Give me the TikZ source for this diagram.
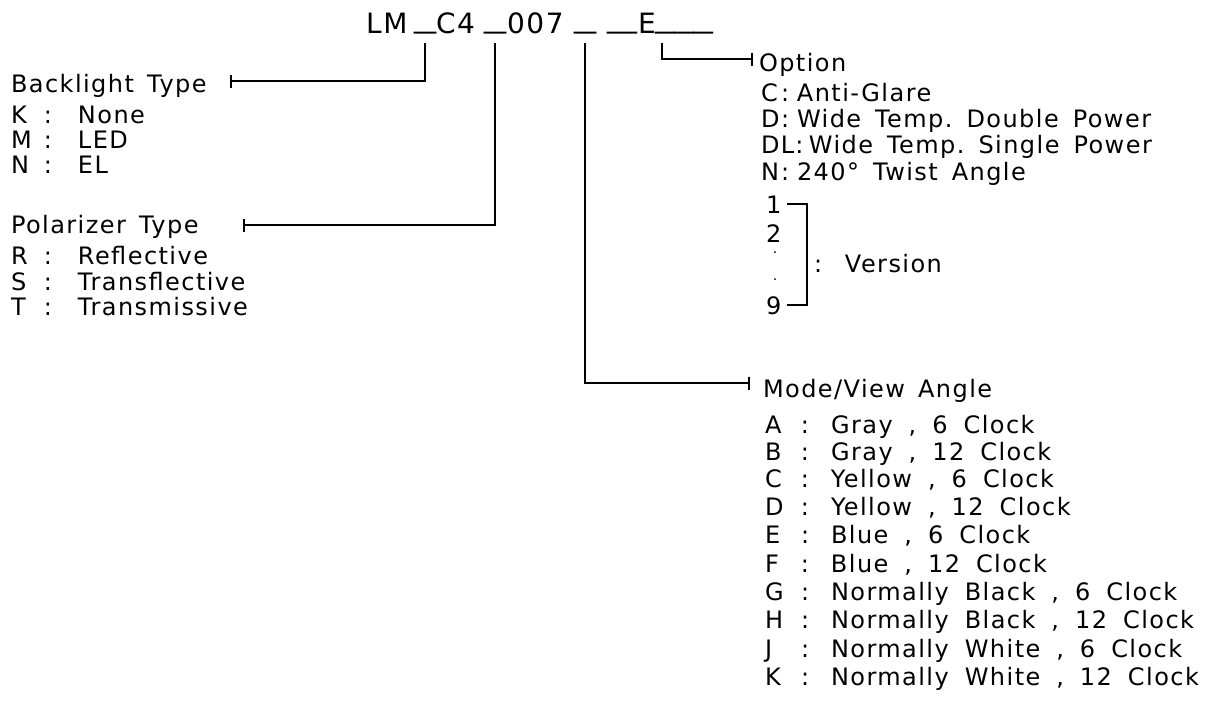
\documentclass[tikz,border=0pt]{standalone}
\usepackage{graphicx}
\usepackage{fontspec}
\setmainfont{DejaVu Sans}[WordSpace=1.45,LetterSpace=6]
\usetikzlibrary{arrows.meta}
\frenchspacing
\newcommand\kvline[4]{\makebox[#1][l]{#3}\makebox[#2][l]{:}#4}
\begin{document}
\begin{tikzpicture}[x=1pt,y=-1pt,
  txt/.style={font=\fontsize{24pt}{28pt}\selectfont, anchor=base west, inner sep=0pt, outer sep=0pt},
  ttl/.style={font=\fontsize{28pt}{32pt}\selectfont, anchor=base west, inner sep=0pt, outer sep=0pt},
  usc/.style={font=\fontsize{28pt}{32pt}\selectfont, anchor=south, inner sep=0pt, outer sep=0pt},
  optval/.style={txt, execute at begin node={\spaceskip=14pt\relax}},
  modeval/.style={txt, execute at begin node={\spaceskip=16pt\relax}},
  conn/.style={line width=1.8pt, -{Bar[width=13pt]}},
  brk/.style={line width=1.8pt},
  dotmark/.style={font=\fontsize{14pt}{16pt}\selectfont, inner sep=0pt, outer sep=0pt}
]
\fill[white] (0,0) rectangle (1221,702);
\useasboundingbox (0,0) rectangle (1221,702);

% title
\node[ttl] (tLM) at (366,33) {LM};
\node[usc] (u1) at (425,34) {\scalebox{1.57}[1]{\_}};
\node[ttl] (tC4) at (436,33) {C4};
\node[usc] (u2) at (495,34) {\scalebox{1.57}[1]{\_}};
\node[ttl] (t007) at (507,33) {007};
\node[usc] (u3) at (585,34) {\scalebox{1.57}[1]{\_}};
\node[usc] (u4) at (622,34) {\scalebox{2.1}[1]{\_}};
\node[ttl] (tE) at (638,33) {E};
\node[usc] (u5) at (684,34) {\scalebox{1.38}[1]{\addfontfeature{LetterSpace=0}\_\_\_}};

% left lists
\node[txt] (bl) at (11,92) {Backlight Type};
\node[txt] (blK) at (11,123) {\kvline{33pt}{34pt}{K}{None}};
\node[txt] (blM) at (11,148) {\kvline{33pt}{34pt}{M}{LED}};
\node[txt] (blN) at (11,173) {\kvline{33pt}{34pt}{N}{EL}};
\node[txt] (pol) at (11,233) {Polarizer Type};
\node[txt] (polR) at (11,264) {\kvline{33pt}{34pt}{R}{Reflective}};
\node[txt] (polS) at (11,290) {\kvline{33pt}{34pt}{S}{Transflective}};
\node[txt] (polT) at (11,315) {\kvline{33pt}{34pt}{T}{Transmissive}};

% option list
\node[txt] (opt) at (759,71) {Option};
\node[optval] (optC) at (761,101) {\kvline{20pt}{16pt}{C}{Anti-Glare}};
\node[optval] (optD) at (761,127) {\kvline{20pt}{16pt}{D}{Wide Temp. Double Power}};
\node[optval] (optDL) at (761,153) {\kvline{34.5pt}{13.5pt}{DL}{Wide Temp. Single Power}};
\node[optval] (optN) at (761,180) {\kvline{20pt}{16pt}{N}{240° Twist Angle}};

% version
\node[txt] (v1) at (766,213) {1};
\node[txt] (v2) at (766,242) {2};
\node[dotmark] (vd1) at (775,253) {.};
\node[dotmark] (vd2) at (775,280) {.};
\node[txt] (v9) at (766,314) {9};
\node[txt] (ver) at (814,272) {\makebox[31pt][l]{:}Version};
\draw[brk] ([xshift=6pt]v1.east) -- ++(20,0) |- ([xshift=6pt]v9.east);

% mode list
\node[txt] (mode) at (763,397) {Mode/View Angle};
\node[modeval] (mA) at (765,433) {\kvline{36pt}{30pt}{A}{Gray , 6 Clock}};
\node[modeval] (mB) at (765,460) {\kvline{36pt}{30pt}{B}{Gray , 12 Clock}};
\node[modeval] (mC) at (765,487) {\kvline{36pt}{30pt}{C}{Yellow , 6 Clock}};
\node[modeval] (mD) at (765,515) {\kvline{36pt}{30pt}{D}{Yellow , 12 Clock}};
\node[modeval] (mE) at (765,543) {\kvline{36pt}{30pt}{E}{Blue , 6 Clock}};
\node[modeval] (mF) at (765,572) {\kvline{36pt}{30pt}{F}{Blue , 12 Clock}};
\node[modeval] (mG) at (765,600) {\kvline{36pt}{30pt}{G}{Normally Black , 6 Clock}};
\node[modeval] (mH) at (765,628) {\kvline{36pt}{30pt}{H}{Normally Black , 12 Clock}};
\node[modeval] (mJ) at (765,657) {\kvline{36pt}{30pt}{J}{Normally White , 6 Clock}};
\node[modeval] (mK) at (765,685) {\kvline{36pt}{30pt}{K}{Normally White , 12 Clock}};

% connectors
\coordinate (blEnd) at (230,81);
\coordinate (polEnd) at (243,225);
\coordinate (modeEnd) at (750,383);
\coordinate (optEnd) at (753,59);
\draw[conn] ([yshift=-9pt]u1.south) |- (blEnd);
\draw[conn] ([yshift=-9pt]u2.south) |- (polEnd);
\draw[conn] ([yshift=-9pt]u3.south) |- (modeEnd);
\draw[conn] ([shift={(7pt,-9pt)}]u5.south west) |- (optEnd);
\end{tikzpicture}
\end{document}
